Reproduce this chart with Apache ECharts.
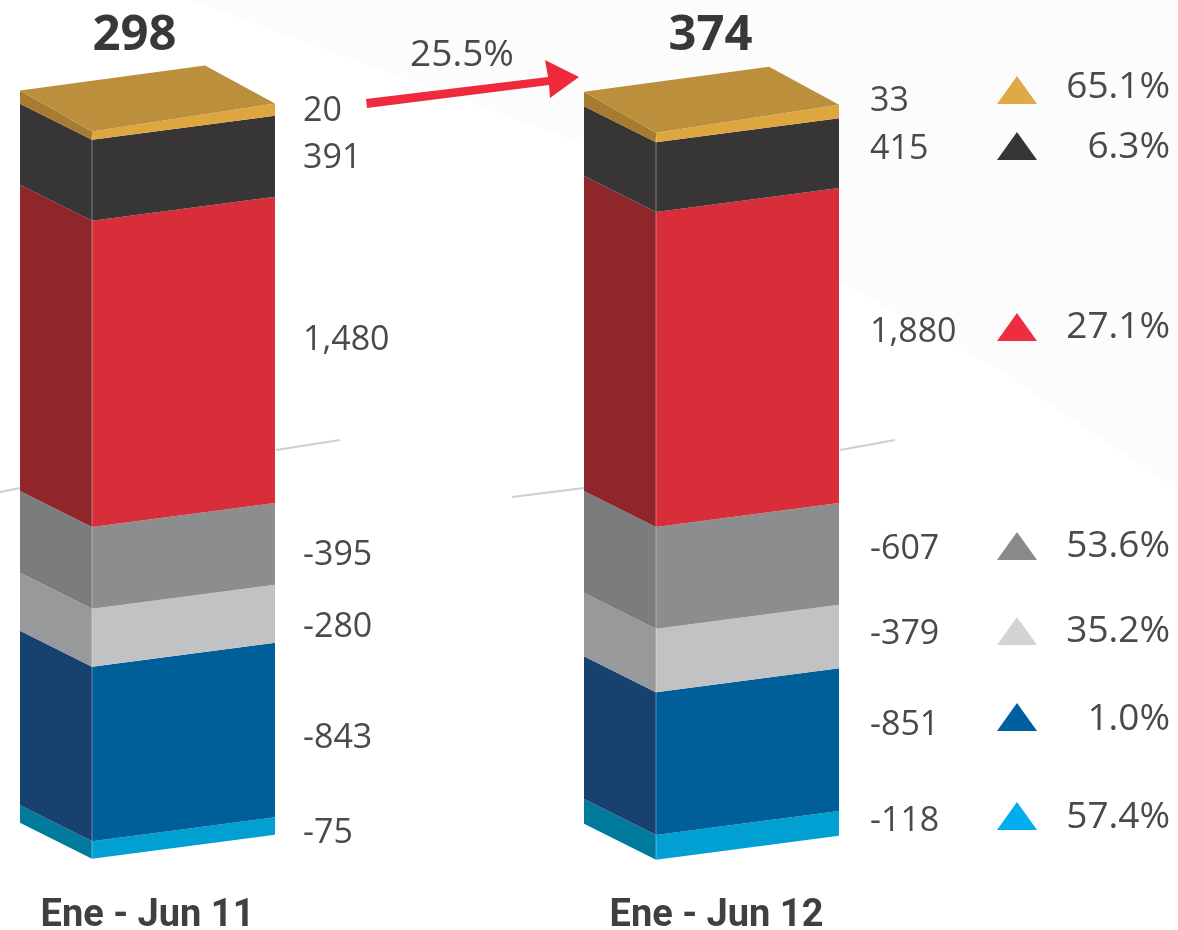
<!DOCTYPE html>
<html>
<head>
<meta charset="utf-8">
<style>
    html,body{margin:0;padding:0;background:#fff;}
    #chart{width:1178px;height:930px;}
</style>
<script src="https://cdn.jsdelivr.net/npm/echarts@6/dist/echarts.min.js"></script>
</head>
<body>
<div id="chart"></div>
<script>
// datos
var categories = ['Ene - Jun 11', 'Ene - Jun 12'];
var totals = ['298', '374'];
var goldValues = [20, 33];
var blackValues = [391, 415];
var redValues = [1480, 1880];
var grayValues = [-395, -607];
var silverValues = [-280, -379];
var blueValues = [-843, -851];
var cyanValues = [-75, -118];
var changeLabels = ['65.1%', '6.3%', '27.1%', '53.6%', '35.2%', '1.0%', '57.4%'];
var growthLabel = '25.5%';

// orden de dibujo: de abajo hacia arriba para que la tapa quede al final
var layers = [cyanValues, blueValues, silverValues, grayValues, redValues, blackValues, goldValues];

// estilos por capa (mismo orden que layers)
var frontColors = ['#00a0d2', '#005f99', '#c1c2c4', '#8c8d8f', '#d72e3a', '#373536', '#dda63f'];
var sideColors = ['#007a9c', '#17426f', '#98999b', '#7b7c7e', '#8e262c', '#373536', '#a67c2e'];
var topColor = '#bc8f3c';
var textColor = '#4a4a4a';
var fontName = '"Open Sans", sans-serif';

// ajuste vertical de cada etiqueta respecto al centro del segmento
var labelNudge = [
    [8, 8, 14, 11, -10, 2, -2],
    [1, -14, -2, -5, -13, -4, -14]
];
var labelShift = [0, 3];
var totalNudge = [-13, -1];
// la franja inferior tambien es algo mas gruesa en el original
var bottomCap = [2, 5];

// columna de variaciones
var triangleColors = ['#dfa945', '#373536', '#ee2e40', '#8a8a8c', '#d2d3d5', '#005f9e', '#00aeef'];
var triangleY = [104, 160, 341, 560, 645, 731, 830];
var changeY = [87, 147, 327, 546, 631, 719, 817];

function numberLabel(v){
    var s = String(Math.abs(v));
    if(s.length > 3){
        s = s.slice(0, s.length - 3) + ',' + s.slice(s.length - 3);
    }
    return (v < 0 ? '-' : '') + s;
}

function stackRows(barIndex){
    var rows = [];
    var neg = 0;
    for(var i = 3; i >= 0; i--){
        rows.unshift([barIndex, neg, neg + layers[i][barIndex], i]);
        neg += layers[i][barIndex];
    }
    var pos = 0;
    for(var j = 4; j < layers.length; j++){
        rows.push([barIndex, pos, pos + layers[j][barIndex], j]);
        pos += layers[j][barIndex];
    }
    return rows;
}

function renderSegment(params, api){
    var bar = api.value(0);
    var layer = api.value(3);
    var start = api.coord([bar, api.value(1)]);
    var end = api.coord([bar, api.value(2)]);
    var xc = start[0];
    var xSide = xc - 127.5, xLeft = xc - 55.5, xRight = xc + 127.5;
    var y0 = start[1], y1 = end[1];
    var isTop = layer === layers.length - 1;
    // la franja superior es algo mas alta que su valor, como en el original
    var capLeft = isTop ? 4 : 0, capRight = isTop ? 8 : 0, capSide = isTop ? 9 : 0;
    var yEnd = layer === 0 ? y1 + bottomCap[bar] : y1;
    var children = [
        {type:'polygon', shape:{points:[[xSide,y0-36],[xLeft,y0],[xLeft,yEnd-capLeft],[xSide,yEnd-36-capSide]]}, style:{fill:sideColors[layer]}},
        {type:'polygon', shape:{points:[[xLeft,y0],[xRight,y0-24],[xRight,yEnd-24-capRight],[xLeft,yEnd-capLeft]]}, style:{fill:frontColors[layer]}},
        {type:'line', shape:{x1:xLeft,y1:y0,x2:xLeft,y2:yEnd}, style:{stroke:'rgba(255,255,255,0.18)',lineWidth:2}},
        {type:'text', style:{
            text:numberLabel(api.value(2) - api.value(1)),
            x:xRight + 28 + labelShift[bar],
            y:(y0 + y1) / 2 - 24 + labelNudge[bar][layer],
            fill:textColor,
            font:'34px ' + fontName,
            textAlign:'left',
            textVerticalAlign:'middle'
        }}
    ];
    if(isTop){
        children.push({type:'polygon', shape:{points:[[xLeft,y1-4],[xRight,y1-32],[xRight-70,y1-70],[xSide,y1-45]]}, style:{fill:topColor}});
    }
    return {type:'group', children:children};
}

function renderTotal(params, api){
    var pos = api.coord([api.value(0), 0]);
    return {type:'text', style:{
        text:totals[api.value(0)],
        x:pos[0] + totalNudge[api.value(0)],
        y:36,
        fill:'#383838',
        font:'bold 49px ' + fontName,
        textAlign:'center',
        textVerticalAlign:'middle'
    }};
}

var graphics = [
    // fondo muy tenue
    {type:'polygon', z:-1, shape:{points:[[190,0],[1178,0],[1178,490],[1000,370],[600,150]]}, style:{fill:'#fcfcfc'}},
    {type:'line', z:-1, shape:{x1:276,y1:450,x2:340,y2:440}, style:{stroke:'#cfcfcf',lineWidth:2}},
    {type:'line', z:-1, shape:{x1:0,y1:492,x2:20,y2:488}, style:{stroke:'#cfcfcf',lineWidth:2}},
    {type:'line', z:-1, shape:{x1:512,y1:497,x2:584,y2:488}, style:{stroke:'#cfcfcf',lineWidth:2}},
    {type:'line', z:-1, shape:{x1:840,y1:450,x2:895,y2:440}, style:{stroke:'#cfcfcf',lineWidth:2}},
    // flecha de crecimiento
    {type:'polygon', shape:{points:[[366,99],[548,77],[545,60],[579,77],[550,98],[549,85],[367,108]]}, style:{fill:'#ee2a3c'}},
    {type:'text', style:{text:growthLabel, x:462, y:55, fill:textColor, font:'37px ' + fontName, textAlign:'center', textVerticalAlign:'middle'}}
];
changeLabels.forEach(function(label, i){
    var base = triangleY[i];
    graphics.push({type:'polygon', shape:{points:[[997,base],[1037,base],[1017,base-28]]}, style:{fill:triangleColors[i]}});
    graphics.push({type:'text', style:{text:label, x:1170, y:changeY[i], fill:textColor, font:'37px ' + fontName, textAlign:'right', textVerticalAlign:'middle'}});
});

var option = {
    animation:false,
    backgroundColor:'#fff',
    grid:{left:-134.5, width:1128, top:113, bottom:30.4, outerBoundsMode:'none'},
    xAxis:{
        type:'category',
        data:categories.map(function(name, i){
            return {value:name, textStyle:{padding:i === 1 ? [0,0,0,10] : 0}};
        }),
        axisLine:{show:false, onZero:false},
        axisTick:{show:false},
        // Roboto: su J no baja de la linea base y no se corta con el borde
        axisLabel:{color:'#404040', fontFamily:'Roboto', fontWeight:'bold', fontSize:38, margin:-2, interval:0}
    },
    yAxis:[
        {type:'value', show:false, min:-1800, max:2000, splitLine:{show:false}},
        {type:'value', show:false, min:-2223, max:2470, splitLine:{show:false}}
    ],
    graphic:graphics,
    series:[
        {type:'custom', yAxisIndex:0, renderItem:renderSegment, encode:{x:0, y:[1,2]}, data:stackRows(0), silent:true},
        {type:'custom', yAxisIndex:1, renderItem:renderSegment, encode:{x:0, y:[1,2]}, data:stackRows(1), silent:true},
        {type:'custom', yAxisIndex:0, renderItem:renderTotal, encode:{x:0}, data:[[0],[1]], silent:true}
    ]
};

var myChart = echarts.init(document.getElementById('chart'));
myChart.setOption(option);
</script>
</body>
</html>
